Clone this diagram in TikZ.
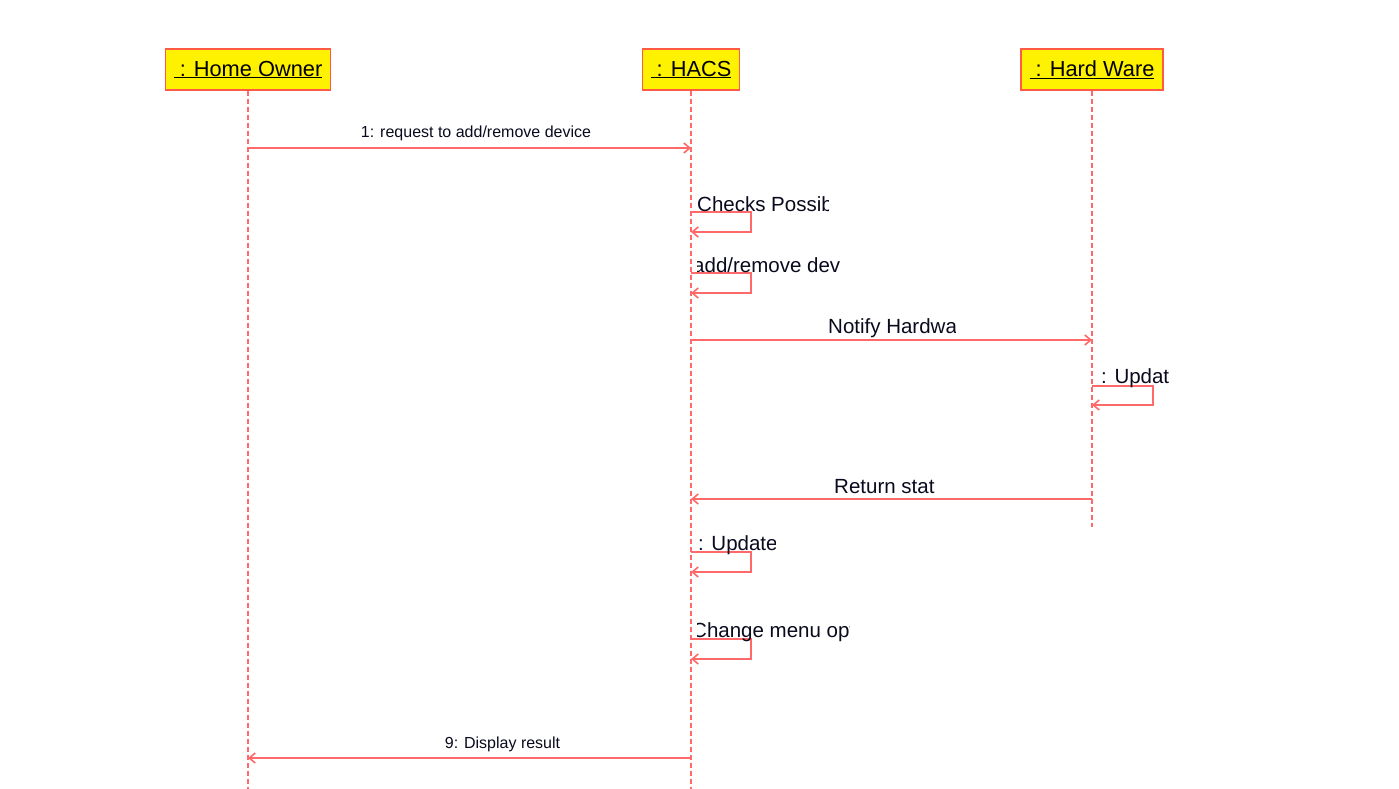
\documentclass[tikz,border=0pt]{standalone}
\usepackage{fontspec}
\setmainfont{Liberation Sans}
\usetikzlibrary{arrows.meta}
\definecolor{ln}{RGB}{255,105,105}
\definecolor{bd}{RGB}{255,90,70}
\definecolor{txt}{RGB}{10,10,30}
\begin{document}
\begin{tikzpicture}[x=1pt,y=-1pt,
  head/.style={draw=bd, line width=1.8pt, fill=yellow, minimum width=#1, minimum height=41pt, inner sep=0pt, font=\fontsize{21.8}{24}\selectfont},
  life/.style={ln, line width=2.2pt, dash pattern=on 5pt off 3pt},
  msg/.style={ln, line width=1.6pt, -{Straight Barb[length=6pt,width=10pt]}},
  big/.style={font=\fontsize{20.5}{24}\selectfont, text=txt, inner sep=0pt, anchor=base west},
  small/.style={font=\fontsize{16}{19}\selectfont, text=txt, inner sep=0pt, anchor=base}]
\useasboundingbox[fill=white] (0,0) rectangle (1399,789);
% heads
\node[head=165pt] (ho) at (248,69.5) {\underline{\ : Home Owner}};
\node[head=97pt] (hacs) at (691,69.5) {\underline{\ : HACS}};
\node[head=142pt] (hw) at (1092,69.5) {\underline{\ : Hard Ware}};
% lifelines
\coordinate (hoE) at (ho.south |- 0,789);
\coordinate (hacsE) at (hacs.south |- 0,789);
\coordinate (hwE) at (hw.south |- 0,527);
\draw[life] (ho.south) -- (hoE);
\draw[life] (hacs.south) -- (hacsE);
\draw[life] (hw.south) -- (hwE);
% message points
\coordinate (m1a) at (ho.south |- 0,148);
\coordinate (m1b) at (hacs.south |- 0,148);
\coordinate (s2a) at (hacs.south |- 0,212);
\coordinate (s2b) at (hacs.south |- 0,232);
\coordinate (s3a) at (hacs.south |- 0,273);
\coordinate (s3b) at (hacs.south |- 0,293);
\coordinate (m4a) at (hacs.south |- 0,340);
\coordinate (m4b) at (hw.south |- 0,340);
\coordinate (s5a) at (hw.south |- 0,386);
\coordinate (s5b) at (hw.south |- 0,405);
\coordinate (m6a) at (hw.south |- 0,499);
\coordinate (m6b) at (hacs.south |- 0,499);
\coordinate (s7a) at (hacs.south |- 0,552);
\coordinate (s7b) at (hacs.south |- 0,572);
\coordinate (s8a) at (hacs.south |- 0,639);
\coordinate (s8b) at (hacs.south |- 0,659);
\coordinate (m9a) at (hacs.south |- 0,758);
\coordinate (m9b) at (ho.south |- 0,758);
% messages
\draw[msg] (m1a) -- (m1b);
\draw[msg] (s2a) -- ++(60,0) -- ++(0,20) -- (s2b);
\draw[msg] (s3a) -- ++(60,0) -- ++(0,20) -- (s3b);
\draw[msg] (m4a) -- (m4b);
\draw[msg] (s5a) -- ++(61,0) -- ++(0,19) -- (s5b);
\draw[msg] (m6a) -- (m6b);
\draw[msg] (s7a) -- ++(60,0) -- ++(0,20) -- (s7b);
\draw[msg] (s8a) -- ++(60,0) -- ++(0,20) -- (s8b);
\draw[msg] (m9a) -- (m9b);
% labels
\node[small] (l1) at (476,138) {1: request to add/remove device};
\node[small] (l9) at (502.5,748) {9: Display result};
\begin{scope}
  \clip (697,180) rectangle (828,222);
  \node[big] (l2) at (697,211) {Checks Possib};
\end{scope}
\begin{scope}
  \clip (697,240) rectangle (840,284);
  \node[big] (l3) at (693,272) {add/remove dev};
\end{scope}
\begin{scope}
  \clip (800,300) rectangle (955,345);
  \node[big] (l4) at (828,333) {Notify Hardwa};
\end{scope}
\begin{scope}
  \clip (1097,350) rectangle (1170,392);
  \node[big] (l5) at (1101,383) {: Updat};
\end{scope}
\node[big] (l6) at (834,493) {Return stat};
\begin{scope}
  \clip (697,520) rectangle (775,560);
  \node[big] (l7) at (698,550) {: Update};
\end{scope}
\begin{scope}
  \clip (697,605) rectangle (849,647);
  \node[big] (l8) at (692,637) {Change menu opt};
\end{scope}
\end{tikzpicture}
\end{document}
